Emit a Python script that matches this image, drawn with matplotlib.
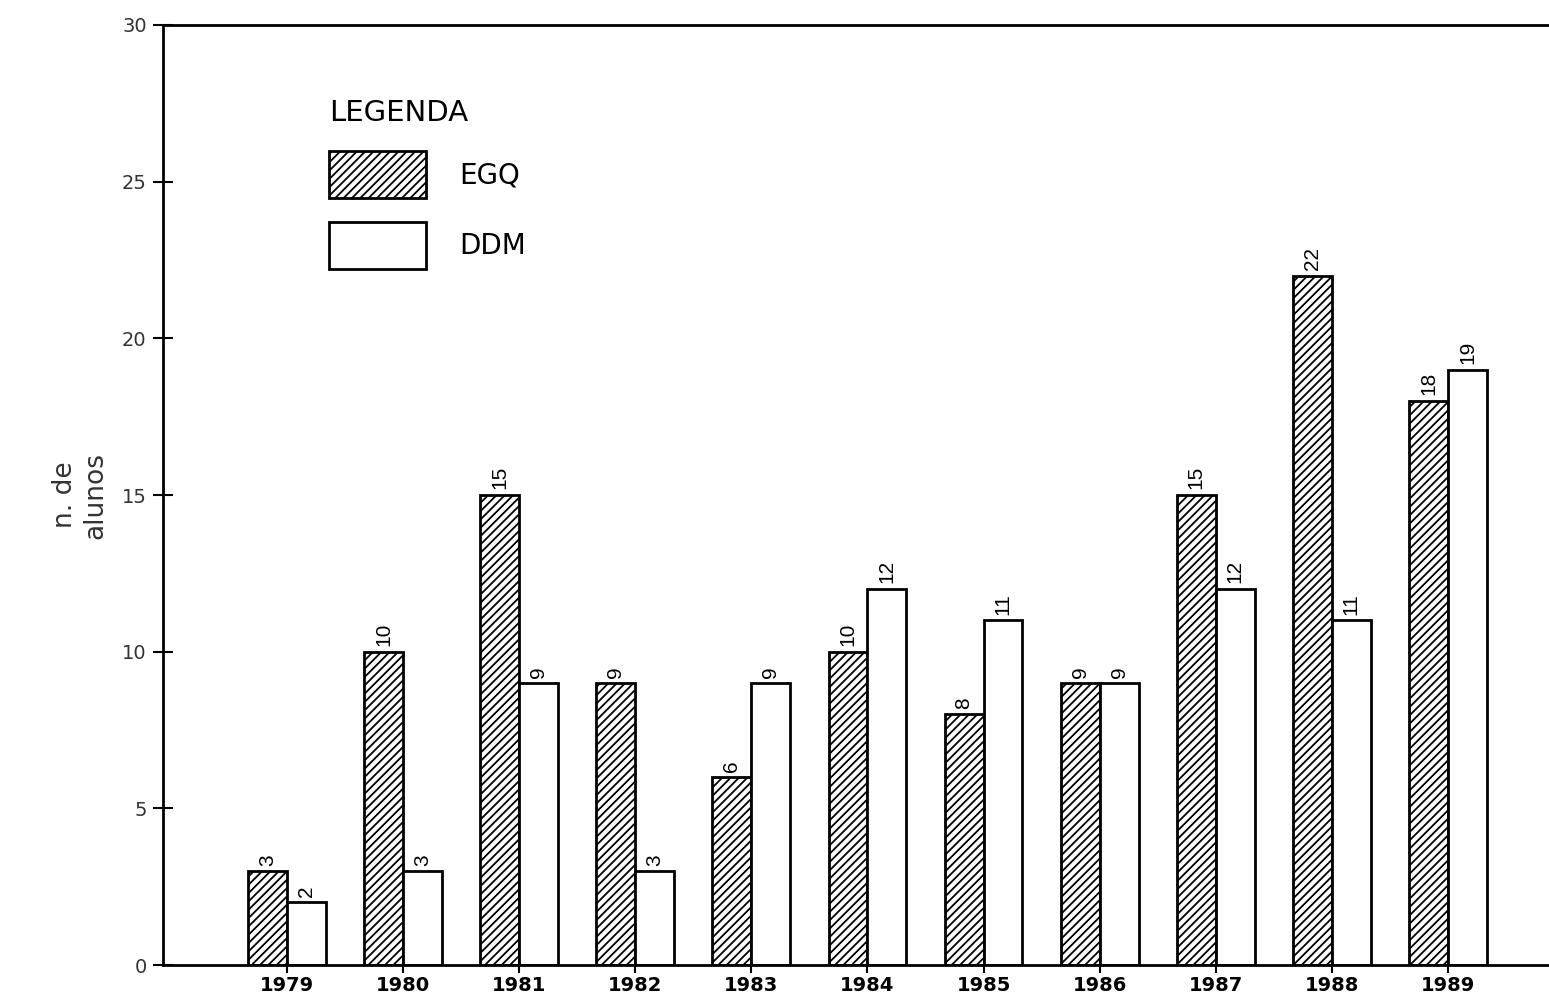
import matplotlib
matplotlib.use("Agg")
import matplotlib.pyplot as plt
import numpy as np

# data
years = ["1979", "1980", "1981", "1982", "1983", "1984",
         "1985", "1986", "1987", "1988", "1989"]
egq = [3, 10, 15, 9, 6, 10, 8, 9, 15, 22, 18]
ddm = [2, 3, 9, 3, 9, 12, 11, 9, 12, 11, 19]
y_ticks = [0, 5, 10, 15, 20, 25, 30]

plt.rcParams['hatch.linewidth'] = 1.3

fig = plt.figure(figsize=(15.49, 9.94), dpi=100)
ax = fig.add_axes([0.105, 0.029, 0.895, 0.946])

x = np.arange(len(years))
w = 0.335

b1 = ax.bar(x - w / 2, egq, w, facecolor="white", edgecolor="black",
            linewidth=2, hatch="////", label="EGQ")
b2 = ax.bar(x + w / 2, ddm, w, facecolor="white", edgecolor="black",
            linewidth=2, label="DDM")

# value labels, rotated like the original
for bars, vals in ((b1, egq), (b2, ddm)):
    for rect, v in zip(bars, vals):
        ax.annotate(str(v), (rect.get_x() + rect.get_width() / 2, rect.get_height()),
                    xytext=(0, 4), textcoords="offset points",
                    ha="center", va="bottom", rotation=90,
                    fontsize=15, family="Liberation Sans")

ax.set_xlim(-1.07, len(years) - 1 + 0.87)
ax.set_ylim(0, 30)

ax.set_xticks(x)
ax.set_xticklabels(years, fontsize=14, fontweight="bold")
ax.tick_params(axis="x", direction="out", length=6, width=1.5, pad=2)

ax.set_yticks(y_ticks)
ax.set_yticklabels([str(t) for t in y_ticks], fontsize=14, color="#333333")
ax.tick_params(axis="y", direction="inout", length=15, width=1.5, pad=4)

ax.spines["right"].set_visible(False)
for s in ("left", "top", "bottom"):
    ax.spines[s].set_linewidth(2)

ax.set_ylabel("n. de\nalunos", fontsize=19, color="#333333", labelpad=10)

leg = ax.legend(title="LEGENDA", loc="upper left", bbox_to_anchor=(0.12, 0.921),
                frameon=False, fontsize=20, title_fontsize=21, alignment="left",
                handlelength=3.5, handleheight=2.25, labelspacing=0.85,
                handletextpad=1.2, borderpad=0, borderaxespad=0)
for p in leg.get_patches():
    p.set_linewidth(2)

fig.savefig("out.png", dpi=100, facecolor="white")
